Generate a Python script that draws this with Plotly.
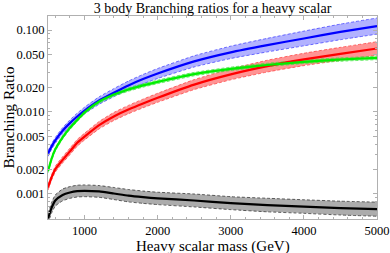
import plotly.graph_objects as go

mass = [500, 550, 600, 700, 800, 900, 1000, 1200, 1400, 1600, 1800, 2000, 2500, 3000, 3500, 4000, 4500, 5000]

blue = [0.0031, 0.0038, 0.0045, 0.0059, 0.0073, 0.0088, 0.0104, 0.0138, 0.0172, 0.0211, 0.0252, 0.0295, 0.0415, 0.0535, 0.0655, 0.079, 0.095, 0.112]
blue_err = [1.08, 1.08, 1.085, 1.09, 1.095, 1.10, 1.10, 1.11, 1.12, 1.13, 1.14, 1.15, 1.17, 1.19, 1.21, 1.23, 1.245, 1.255]

green = [0.0019, 0.0027, 0.0035, 0.0049, 0.0064, 0.0080, 0.0099, 0.0134, 0.0163, 0.0188, 0.0211, 0.0233, 0.0290, 0.0336, 0.0375, 0.0410, 0.0437, 0.0457]
green_err = [1.05, 1.05, 1.05, 1.05, 1.05, 1.05, 1.05, 1.05, 1.05, 1.05, 1.05, 1.05, 1.05, 1.05, 1.05, 1.05, 1.05, 1.05]

red = [0.0012, 0.0016, 0.0020, 0.0026, 0.0033, 0.0042, 0.0050, 0.0069, 0.0088, 0.0107, 0.0127, 0.0149, 0.0216, 0.0288, 0.0363, 0.0438, 0.0513, 0.0596]
red_err = [1.08, 1.08, 1.085, 1.09, 1.095, 1.10, 1.10, 1.11, 1.12, 1.125, 1.13, 1.135, 1.15, 1.165, 1.18, 1.19, 1.20, 1.21]

black = [0.00050, 0.00068, 0.00083, 0.00097, 0.00104, 0.00108, 0.00109, 0.00107, 0.00101, 0.00095, 0.00091, 0.00088, 0.00083, 0.00077, 0.00073, 0.00070, 0.00067, 0.00065]
black_err = [1.15, 1.16, 1.17, 1.18, 1.18, 1.18, 1.18, 1.18, 1.185, 1.19, 1.19, 1.19, 1.2, 1.2, 1.21, 1.21, 1.215, 1.22]

x_ticks = [1000, 2000, 3000, 4000, 5000]
y_ticks = [0.001, 0.002, 0.005, 0.010, 0.020, 0.050, 0.100]
y_ticktext = ["0.001", "0.002", "0.005", "0.010", "0.020", "0.050", "0.100"]

series = [
    (blue, blue_err, "#0000ff", "rgba(0,0,255,0.30)", "rgba(60,60,255,0.9)"),
    (red, red_err, "#ff0000", "rgba(255,0,0,0.42)", "rgba(255,60,60,0.9)"),
    (green, green_err, "#00ee00", "rgba(0,220,0,0.35)", "rgba(60,230,60,0.9)"),
    (black, black_err, "#000000", "rgba(90,90,90,0.50)", "rgba(40,40,40,0.9)"),
]

SM = 0.5
fig = go.Figure()
for vals, err, lc, fc, dc in series:
    lo = [v / e for v, e in zip(vals, err)]
    hi = [v * e for v, e in zip(vals, err)]
    fig.add_trace(go.Scatter(x=mass, y=lo, mode="lines",
                             line=dict(color=dc, width=0.8, dash="3px,2px", shape="spline", smoothing=SM),
                             showlegend=False, hoverinfo="skip"))
    fig.add_trace(go.Scatter(x=mass, y=hi, mode="lines", fill="tonexty", fillcolor=fc,
                             line=dict(color=dc, width=0.8, dash="3px,2px", shape="spline", smoothing=SM),
                             showlegend=False, hoverinfo="skip"))
for vals, err, lc, fc, dc in series:
    fig.add_trace(go.Scatter(x=mass, y=vals, mode="lines",
                             line=dict(color=lc, width=2.2, shape="spline", smoothing=SM),
                             showlegend=False))

font_family = "Liberation Serif, DejaVu Serif, serif"
frame = "#b0b0b0"
minor_y = [v * k for v in [0.0001, 0.001, 0.01, 0.1] for k in range(1, 10)]
fig.update_layout(
    width=390, height=253,
    margin=dict(l=48, r=13, t=16, b=34),
    paper_bgcolor="white", plot_bgcolor="white",
    font=dict(family=font_family, size=12.5, color="black"),
    title=dict(text="3 body Branching ratios for a heavy scalar", x=0.545, xanchor="center",
               y=0.968, yanchor="middle", font=dict(size=14, family=font_family)),
    xaxis=dict(range=[500, 5000], tickvals=x_ticks, ticks="inside", ticklen=4, tickcolor=frame,
               showline=True, linecolor=frame, linewidth=1, mirror="ticks", showgrid=False, zeroline=False,
               automargin=False,
               minor=dict(ticks="inside", ticklen=2, tickcolor=frame, dtick=200, showgrid=False),
               tickfont=dict(size=12.5)),
    yaxis=dict(type="log", range=[-3.307, -0.828], tickvals=y_ticks, ticktext=y_ticktext,
               ticks="inside", ticklen=4, tickcolor=frame, showline=True, linecolor=frame, linewidth=1,
               mirror="ticks", showgrid=False, zeroline=False, automargin=False,
               minor=dict(ticks="inside", ticklen=2, tickcolor=frame, tickvals=minor_y, showgrid=False),
               tickfont=dict(size=12.5)),
    annotations=[
        dict(text="Heavy scalar mass (GeV)", xref="paper", yref="paper", x=0.5, y=0,
             xanchor="center", yanchor="middle", yshift=-27, showarrow=False, font=dict(size=15)),
        dict(text="Branching Ratio", xref="paper", yref="paper", x=0, y=0.5, textangle=-90,
             xanchor="center", yanchor="middle", xshift=-40, showarrow=False, font=dict(size=15.5)),
    ],
)
fig.write_html("out.html", config={"displayModeBar": False},
               post_script="document.body.style.margin='0';document.body.style.overflow='hidden';")
